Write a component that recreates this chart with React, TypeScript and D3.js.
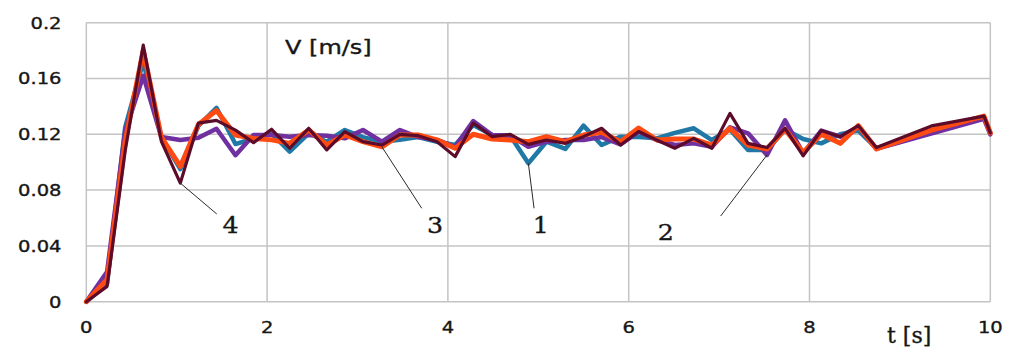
import React from "react";
import * as d3 from "d3";

// Sample times [s]; the last three samples are sparse
const times: number[] = [
  0, 0.23, 0.43, 0.63, 0.83, 1.04, 1.24, 1.44, 1.65, 1.85,
  2.05, 2.25, 2.46, 2.66, 2.86, 3.06, 3.27, 3.47, 3.67, 3.88,
  4.08, 4.28, 4.49, 4.69, 4.89, 5.09, 5.3, 5.5, 5.7, 5.91,
  6.11, 6.31, 6.51, 6.72, 6.92, 7.12, 7.32, 7.53, 7.73, 7.93,
  8.13, 8.34, 8.54, 8.74, 9.35, 9.93, 10,
];

// Velocity V [m/s] of each run (null = no sample at that time)
const series1: (number | null)[] = [
  0, 0.013, 0.125, 0.172, 0.118, 0.095, 0.126, 0.139, 0.113, 0.117,
  0.1207, 0.1076, 0.1207, 0.1147, 0.1231, 0.118, 0.1147, 0.116, 0.118, 0.1147,
  0.1123, 0.1267, 0.1195, 0.119, 0.0992, 0.1147, 0.1095, 0.1262, 0.1123, 0.1183,
  0.118, 0.1171, 0.121, 0.1243, 0.1159, 0.1235, 0.1088, 0.1088, 0.1235, 0.1166,
  0.1135, 0.12, 0.1227, 0.11, null, 0.132, 0.121,
];
const series2: (number | null)[] = [
  0, 0.0215, 0.122, 0.162, 0.118, 0.1159, 0.1175, 0.124, 0.105, 0.1195,
  0.1195, 0.1183, 0.1195, 0.119, 0.1171, 0.1231, 0.1147, 0.1231, 0.118, 0.116,
  0.111, 0.1295, 0.1195, 0.119, 0.111, 0.1147, 0.1159, 0.1159, 0.118, 0.1128,
  0.1219, 0.1159, 0.1123, 0.1135, 0.111, 0.125, 0.1207, 0.1052, 0.13, 0.1064,
  0.1227, 0.1183, 0.1255, 0.1095, null, 0.131, 0.12,
];
const series3: (number | null)[] = [
  0, 0.016, 0.115, 0.18, 0.118, 0.097, 0.127, 0.137, 0.1195, 0.117,
  0.116, 0.1135, 0.1231, 0.1123, 0.1195, 0.1147, 0.111, 0.1195, 0.1195, 0.116,
  0.11, 0.12, 0.1166, 0.1159, 0.1147, 0.1183, 0.1147, 0.1195, 0.1214, 0.1147,
  0.1245, 0.116, 0.1166, 0.1166, 0.1123, 0.1243, 0.1123, 0.1095, 0.1235, 0.107,
  0.12, 0.1135, 0.1262, 0.1095, 0.123, 0.133, 0.121,
];
const series4: (number | null)[] = [
  0, 0.011, 0.108, 0.184, 0.115, 0.085, 0.128, 0.13, 0.123, 0.114,
  0.1236, 0.11, 0.1243, 0.1088, 0.1219, 0.1147, 0.1123, 0.12, 0.119, 0.1147,
  0.104, 0.128, 0.1183, 0.12, 0.1128, 0.1159, 0.1135, 0.1183, 0.1243, 0.1123,
  0.122, 0.1159, 0.11, 0.1171, 0.11, 0.135, 0.1135, 0.1105, 0.1243, 0.1045,
  0.1227, 0.1183, 0.1262, 0.1105, 0.126, 0.133, 0.121,
];

const xTicks: number[] = [0, 2, 4, 6, 8, 10];
const yTicks: number[] = [0, 0.04, 0.08, 0.12, 0.16, 0.2];
const yTickLabels: string[] = ["0", "0.04", "0.08", "0.12", "0.16", "0.2"];

// Curve callouts: anchor sample on the curve, line end and label spot in data units
const calloutNames: string[] = ["4", "3", "1", "2"];
const calloutAnchorT: number[] = [1.04, 3.27, 4.89, 7.53];
const calloutAnchorV: number[] = [0.085, 0.111, 0.0992, 0.1052];
const calloutEndT: number[] = [1.443, 3.71, 4.953, 7.017];
const calloutEndV: number[] = [0.0629, 0.067, 0.067, 0.0614];
const calloutLabelT: number[] = [1.597, 3.857, 5.027, 6.41];
const calloutLabelV: number[] = [0.0495, 0.0495, 0.0495, 0.0443];

const W = 1015;
const H = 349;

const runs = [
  { values: series1, color: "#1f78a6", width: 4.5 },
  { values: series2, color: "#7030a0", width: 4.5 },
  { values: series3, color: "#ff4a12", width: 5 },
  { values: series4, color: "#5c0c2a", width: 3.2 },
];

export default function App() {
  const x = d3.scaleLinear().domain([0, 10]).range([86.3, 990.3]);
  const y = d3.scaleLinear().domain([0, 0.2]).range([301.7, 22.7]);

  const line = d3
    .line<[number, number]>()
    .x((d) => x(d[0]))
    .y((d) => y(d[1]));

  const pts = (vals: (number | null)[]) =>
    times
      .map((t, i) => [t, vals[i]] as [number, number | null])
      .filter((p) => p[1] !== null) as [number, number][];

  const sans = "'DejaVu Sans', Verdana, sans-serif";
  const serif = "'DejaVu Serif', 'Liberation Serif', serif";
  const textColor = "#161616";
  const heavy = { stroke: textColor, strokeWidth: 0.35 };

  return (
    <svg
      width={W}
      height={H}
      style={{ position: "absolute", left: 0, top: 0, background: "#fff" }}
    >
      <rect x={0} y={0} width={W} height={H} fill="#fff" />
      {/* grid */}
      {xTicks.map((t) => (
        <line
          key={"gx" + t}
          x1={x(t)}
          x2={x(t)}
          y1={y(0.2)}
          y2={y(0)}
          stroke="#c4c4c4"
          strokeWidth={1.5}
        />
      ))}
      {yTicks.map((v) => (
        <line
          key={"gy" + v}
          x1={x(0)}
          x2={x(10)}
          y1={y(v)}
          y2={y(v)}
          stroke="#c4c4c4"
          strokeWidth={1.5}
        />
      ))}
      {/* y tick labels */}
      {yTicks.map((v, i) => (
        <text
          key={"yl" + v}
          transform={`translate(61.5,${y(v)}) scale(1.22,1)`}
          textAnchor="end"
          dominantBaseline="central"
          fontFamily={sans}
          fontSize={16}
          fill={textColor}
          {...heavy}
        >
          {yTickLabels[i]}
        </text>
      ))}
      {/* x tick labels */}
      {xTicks.map((t) => (
        <text
          key={"xl" + t}
          transform={`translate(${x(t)},327) scale(1.22,1)`}
          textAnchor="middle"
          dominantBaseline="central"
          fontFamily={sans}
          fontSize={16}
          fill={textColor}
          {...heavy}
        >
          {String(t)}
        </text>
      ))}
      {/* velocity curves */}
      {runs.map((r, i) => (
        <path
          key={"run" + i}
          d={line(pts(r.values)) || ""}
          fill="none"
          stroke={r.color}
          strokeWidth={r.width}
          strokeLinejoin="round"
          strokeLinecap="round"
        />
      ))}
      {/* callouts */}
      {calloutNames.map((name, i) => (
        <g key={"co" + name}>
          <line
            x1={x(calloutAnchorT[i])}
            y1={y(calloutAnchorV[i])}
            x2={x(calloutEndT[i])}
            y2={y(calloutEndV[i])}
            stroke="#2a2a2a"
            strokeWidth={1}
          />
          <text
            transform={`translate(${x(calloutLabelT[i])},${y(calloutLabelV[i])}) scale(1.1,1)`}
            textAnchor="middle"
            fontFamily={serif}
            fontSize={23}
            fill={textColor}
            {...heavy}
          >
            {name}
          </text>
        </g>
      ))}
      {/* axis titles */}
      <text
        transform="translate(285,54.3) scale(1.2,1)"
        fontFamily={sans}
        fontSize={20}
        fill={textColor}
        {...heavy}
      >
        V [m/s]
      </text>
      <text
        transform="translate(887,343)"
        fontFamily={serif}
        fontSize={22}
        fill={textColor}
        {...heavy}
      >
        t [s]
      </text>
    </svg>
  );
}
